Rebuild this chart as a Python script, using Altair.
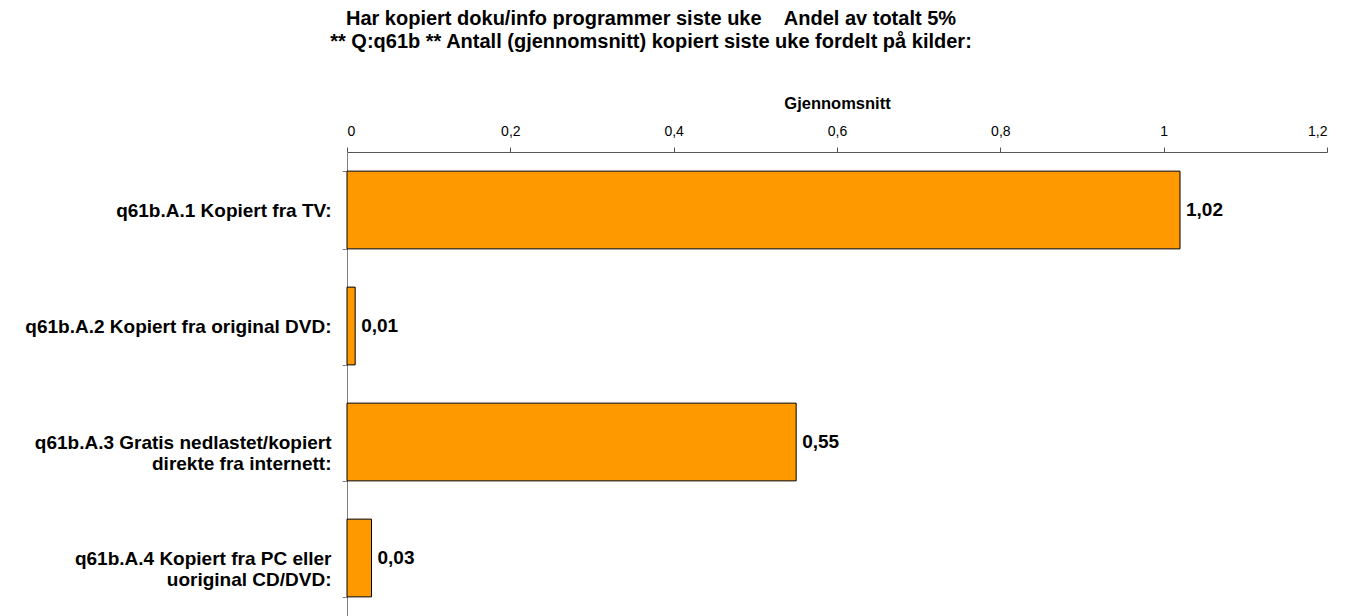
import altair as alt
import pandas as pd

categories = [
    "q61b.A.1 Kopiert fra TV:",
    "q61b.A.2 Kopiert fra original DVD:",
    "q61b.A.3 Gratis nedlastet/kopiert|direkte fra internett:",
    "q61b.A.4 Kopiert fra PC eller|uoriginal CD/DVD:",
]
values = [1.02, 0.01, 0.55, 0.03]
x_ticks = [0, 0.2, 0.4, 0.6, 0.8, 1.0, 1.2]
title_lines = [
    "Har kopiert doku/info programmer siste uke\u00a0\u00a0\u00a0\u00a0Andel av totalt 5%",
    "** Q:q61b ** Antall (gjennomsnitt) kopiert siste uke fordelt på kilder:",
]

df = pd.DataFrame({"cat": categories, "val": values})
FONT = "Liberation Sans"

y_enc = alt.Y(
    "cat:N",
    sort=categories,
    scale=alt.Scale(paddingInner=0.33, paddingOuter=0.165),
    axis=alt.Axis(
        title=None,
        labelExpr="split(datum.label, '|')",
        labelFont=FONT,
        labelFontSize=19,
        labelFontWeight="bold",
        labelColor="black",
        labelLineHeight=21,
        labelPadding=11,
        labelLimit=400,
        tickBand="extent",
        tickSize=5,
        tickColor="#808080",
        domainColor="#808080",
        grid=False,
    ),
)

x_enc = alt.X(
    "val:Q",
    scale=alt.Scale(domain=[0, 1.2], nice=False),
    axis=alt.Axis(
        orient="top",
        title="Gjennomsnitt",
        titleFont=FONT,
        titleFontSize=16.5,
        titleFontWeight="bold",
        titleColor="black",
        titlePadding=13,
        values=x_ticks,
        format="~g",
        labelExpr="replace(datum.label, '.', ',')",
        labelFont=FONT,
        labelFontSize=14,
        labelColor="black",
        labelPadding=9,
        tickSize=5,
        tickColor="#555555",
        domainColor="#555555",
        grid=False,
    ),
)

bars = alt.Chart(df).mark_bar(color="#FF9900", stroke="black", strokeWidth=1).encode(
    x=x_enc, y=y_enc
)

labels = (
    alt.Chart(df)
    .transform_calculate(lbl="replace(format(datum.val, '.2f'), '.', ',')")
    .mark_text(align="left", baseline="middle", dx=6, font=FONT, fontSize=19, fontWeight="bold", color="black")
    .encode(x="val:Q", y=alt.Y("cat:N", sort=categories), text="lbl:N")
)

chart = (
    alt.layer(bars, labels)
    .properties(
        width=980,
        height=464,
        autosize=alt.AutoSizeParams(type="none"),
        padding={"left": 339, "top": 144, "right": 10, "bottom": 0},
        title=alt.TitleParams(
            text=title_lines,
            font=FONT,
            fontSize=20,
            fontWeight="bold",
            color="black",
            anchor="middle",
            dx=-186,
            offset=43,
            lineHeight=23,
        ),
    )
    .configure_view(stroke=None)
)

chart.save("out.html", embed_options={"renderer": "svg", "actions": False})
